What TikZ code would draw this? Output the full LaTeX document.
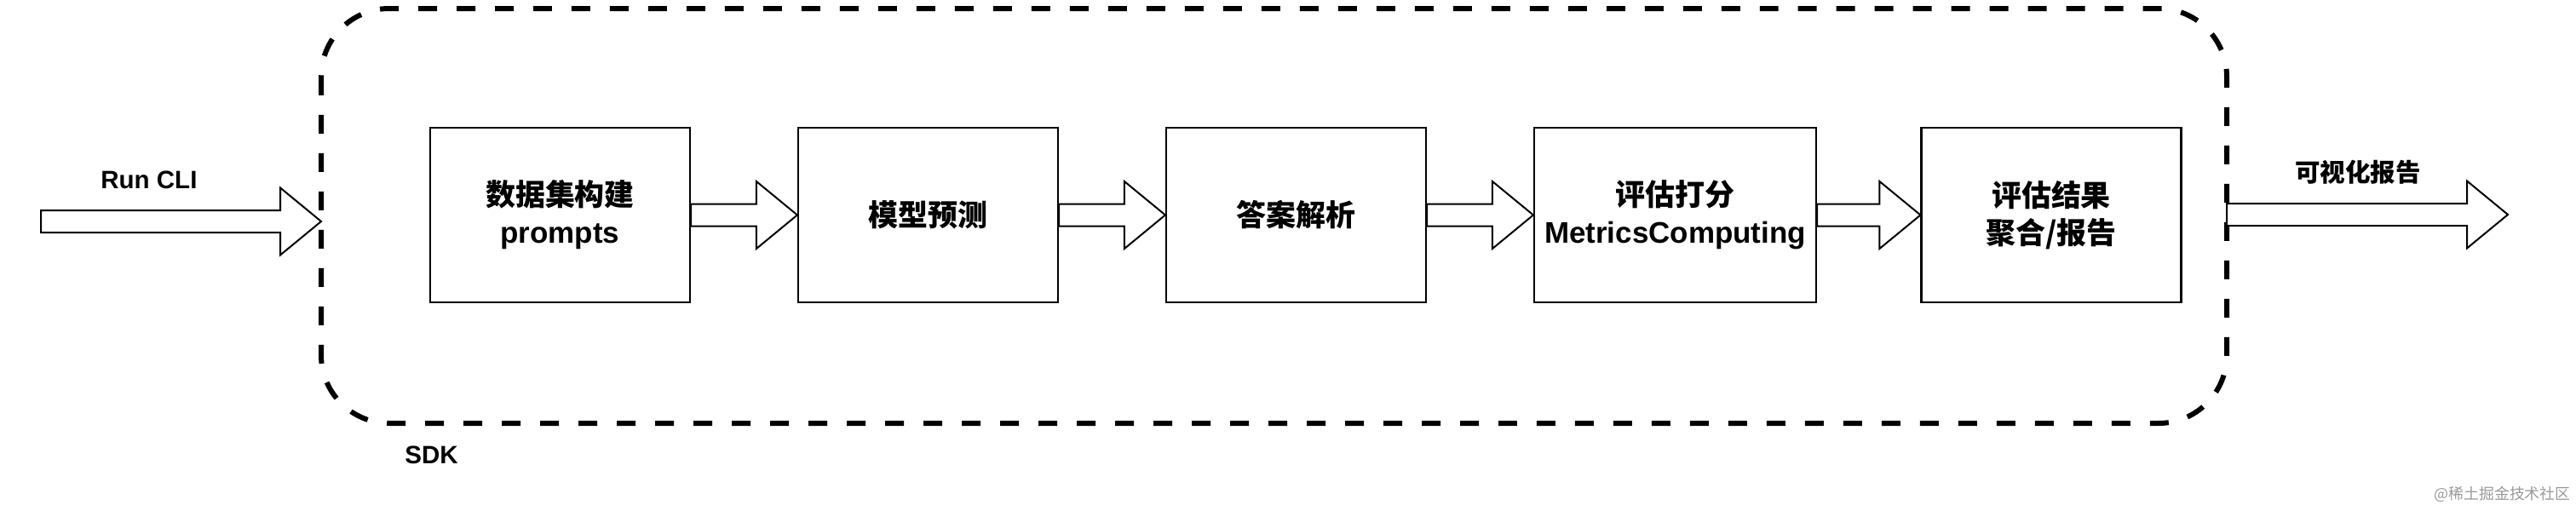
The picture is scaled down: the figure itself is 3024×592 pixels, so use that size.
\documentclass[tikz,border=0pt]{standalone}
\usepackage{fontspec}
\setmainfont{Liberation Sans}
\newfontfamily\cjk{Noto Sans CJK SC}
\usetikzlibrary{calc}
\tikzset{
  stage/.style={draw,line width=0.044cm,minimum width=6.1cm,minimum height=4.1cm,
    align=center,inner sep=0pt,font=\bfseries\fontsize{19.9}{25}\selectfont},
  tag/.style={font=\bfseries\fontsize{16.8}{20}\selectfont,inner sep=0pt},
  sdkframe/.style={line width=0.12cm,dash pattern=on 0.44cm off 0.46cm,rounded corners=1.6cm},
  fatarrow/.style={draw,fill=white,line width=0.04cm,
    to path={let \p1=(\tikztostart),\p2=(\tikztotarget) in
      (\x1,\y1+0.26cm) -- (\x2-0.96cm,\y1+0.26cm) -- (\x2-0.96cm,\y1+0.79cm) -- (\x2,\y1)
      -- (\x2-0.96cm,\y1-0.79cm) -- (\x2-0.96cm,\y1-0.26cm) -- (\x1,\y1-0.26cm) -- cycle}}
}
\begin{document}
\begin{tikzpicture}[x=0.02cm,y=-0.02cm]
  \useasboundingbox (0,0) rectangle (3024,592);
  % SDK frame
  \draw[sdkframe] (377,10) rectangle (2614,497);
  \node[tag,anchor=base west] (sdktext) at (475,544.5) {SDK};
  % stages
  \node[stage] (dataset) at (657.5,252.5) {{\cjk 数据集构建}\\prompts};
  \node[stage,font=\cjk\bfseries\fontsize{19.9}{25}\selectfont] (predict) at (1089.5,252.5) {模型预测};
  \node[stage,font=\cjk\bfseries\fontsize{19.9}{25}\selectfont] (parse) at (1521.5,252.5) {答案解析};
  \node[stage,minimum width=6.62cm] (score) at (1966.5,252.5) {{\cjk 评估打分}\\MetricsComputing};
  \node[stage,font=\cjk\bfseries\fontsize{19.9}{25}\selectfont] (report) at (2408,252.5) {评估结果\\聚合/报告};
  \draw[fatarrow] (dataset.east) to (predict.west);
  \draw[fatarrow] (predict.east) to (parse.west);
  \draw[fatarrow] (parse.east) to (score.west);
  \draw[fatarrow] (score.east) to (report.west);
  % in and out
  \coordinate (cli) at (48,260);
  \coordinate (sdkin) at (377,260);
  \coordinate (sdkout) at (2614,252);
  \coordinate (visual) at (2944,252);
  \draw[fatarrow] (cli) to (sdkin);
  \draw[fatarrow] (sdkout) to (visual);
  \node[tag,anchor=base west] (clitext) at (118,221) {Run CLI};
  \node[tag,font=\cjk\bfseries\fontsize{16.8}{20}\selectfont] (visualtext) at (2768,202) {可视化报告};
  \node[anchor=east,text=black!40,inner sep=0pt,font=\cjk\fontsize{10.2}{12}\selectfont] (mark) at (3018,580) {@稀土掘金技术社区};
\end{tikzpicture}
\end{document}
